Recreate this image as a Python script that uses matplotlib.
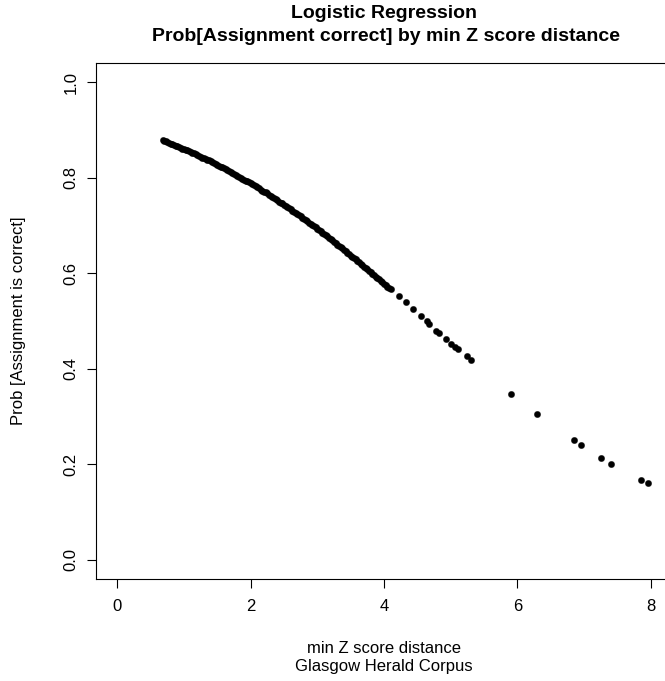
import matplotlib
matplotlib.use("Agg")
import matplotlib.pyplot as plt

plt.rcParams['font.family'] = ['Liberation Sans', 'DejaVu Sans']

# min Z score distance (x) and fitted probability (y)
z_dist = [0.680, 0.700, 0.725, 0.750, 0.775, 0.800, 0.825, 0.850, 0.875,
          0.900, 0.925, 0.950, 0.975, 1.000, 1.025, 1.050, 1.075, 1.100,
          1.125, 1.150, 1.175, 1.200, 1.225, 1.250, 1.275, 1.300, 1.325,
          1.350, 1.375, 1.400, 1.425, 1.450, 1.475, 1.500, 1.525, 1.550,
          1.575, 1.600, 1.625, 1.650, 1.675, 1.700, 1.725, 1.750, 1.775,
          1.800, 1.825, 1.850, 1.875, 1.900, 1.925, 1.950, 1.975, 2.000,
          2.025, 2.050, 2.075, 2.100, 2.125, 2.150, 2.175, 2.200, 2.225,
          2.250, 2.275, 2.300, 2.325, 2.350, 2.375, 2.400, 2.425, 2.450,
          2.475, 2.500, 2.525, 2.550, 2.575, 2.600, 2.625, 2.650, 2.675,
          2.700, 2.725, 2.750, 2.775, 2.800, 2.825, 2.850, 2.875, 2.900,
          2.925, 2.950, 2.975, 3.000, 3.025, 3.050, 3.075, 3.100, 3.125,
          3.150, 3.175, 3.200, 3.225, 3.250, 3.275, 3.300, 3.325, 3.350,
          3.375, 3.400, 3.425, 3.450, 3.475, 3.500, 3.525, 3.550, 3.575,
          3.600, 3.625, 3.650, 3.675, 3.700, 3.725, 3.750, 3.775, 3.800,
          3.825, 3.850, 3.875, 3.900, 3.925, 3.950, 3.975, 4.000, 4.025,
          4.050, 4.075, 4.100,
          4.23, 4.33, 4.43, 4.56, 4.64, 4.68, 4.78, 4.82, 4.93, 5.01, 5.06,
          5.11, 5.24, 5.30,
          5.91, 6.29, 6.85, 6.96, 7.25, 7.41, 7.86, 7.96]
prob = [0.878, 0.877, 0.876, 0.874, 0.873, 0.871, 0.870, 0.869, 0.867,
        0.866, 0.864, 0.863, 0.861, 0.860, 0.858, 0.857, 0.855, 0.854,
        0.852, 0.851, 0.849, 0.847, 0.846, 0.844, 0.842, 0.841, 0.839,
        0.837, 0.836, 0.834, 0.832, 0.830, 0.829, 0.827, 0.825, 0.823,
        0.822, 0.820, 0.818, 0.816, 0.814, 0.812, 0.810, 0.808, 0.806,
        0.804, 0.802, 0.800, 0.798, 0.796, 0.794, 0.792, 0.790, 0.788,
        0.786, 0.784, 0.782, 0.780, 0.778, 0.775, 0.773, 0.771, 0.769,
        0.767, 0.764, 0.762, 0.760, 0.757, 0.755, 0.753, 0.750, 0.748,
        0.746, 0.743, 0.741, 0.739, 0.736, 0.734, 0.731, 0.729, 0.726,
        0.724, 0.721, 0.719, 0.716, 0.714, 0.711, 0.709, 0.706, 0.703,
        0.701, 0.698, 0.696, 0.693, 0.690, 0.688, 0.685, 0.682, 0.680,
        0.677, 0.674, 0.671, 0.669, 0.666, 0.663, 0.660, 0.657, 0.655,
        0.652, 0.649, 0.646, 0.643, 0.640, 0.637, 0.634, 0.632, 0.629,
        0.626, 0.623, 0.620, 0.617, 0.614, 0.611, 0.608, 0.605, 0.602,
        0.599, 0.596, 0.593, 0.590, 0.587, 0.584, 0.581, 0.578, 0.575,
        0.572, 0.569, 0.566,
        0.552, 0.539, 0.525, 0.511, 0.499, 0.494, 0.480, 0.474, 0.462, 0.452,
        0.446, 0.441, 0.426, 0.419,
        0.347, 0.305, 0.250, 0.240, 0.213, 0.201, 0.167, 0.160]

x_ticks = [0, 2, 4, 6, 8]
y_ticks = [0.0, 0.2, 0.4, 0.6, 0.8, 1.0]
y_tick_labels = ["0.0", "0.2", "0.4", "0.6", "0.8", "1.0"]

W, H = 665, 681
fig = plt.figure(figsize=(W / 100, H / 100), dpi=100)
# plot region in pixels: left 96, right 672 (clipped), top 63, bottom 579
ax = fig.add_axes([96 / W, (H - 579) / H, 576 / W, 516 / H])

ax.plot(z_dist, prob, linestyle='none', marker='o', ms=4.6,
        mfc='black', mec='black', mew=0.2)

ax.set_xlim(-0.32, 8.32)
ax.set_ylim(-0.04, 1.04)
ax.set_xticks(x_ticks)
ax.set_xticklabels([str(t) for t in x_ticks], fontsize=12)
ax.set_yticks(y_ticks)
ax.set_yticklabels(y_tick_labels, fontsize=12, rotation=90, va='center')

for s in ax.spines.values():
    s.set_linewidth(0.8)
    s.set_color('black')

ax.tick_params(axis='both', direction='out', length=6.5, width=0.8,
               color='black', labelcolor='black')
ax.tick_params(axis='x', pad=8)
ax.tick_params(axis='y', pad=6)

fig.text(384 / W, 1 - 18 / H, "Logistic Regression", ha='center',
         va='baseline', fontsize=14, fontweight='bold')
fig.text(386 / W, 1 - 41 / H, "Prob[Assignment correct] by min Z score distance",
         ha='center', va='baseline', fontsize=14, fontweight='bold')

fig.text(384 / W, 1 - 653 / H, "min Z score distance", ha='center',
         va='baseline', fontsize=12)
fig.text(384 / W, 1 - 671 / H, "Glasgow Herald Corpus", ha='center',
         va='baseline', fontsize=12)
fig.text(19 / W, 1 - 321 / H, "Prob [Assignment is correct]", ha='center',
         va='center', rotation=90, fontsize=12)

fig.savefig("out.png", dpi=100, facecolor='white')
